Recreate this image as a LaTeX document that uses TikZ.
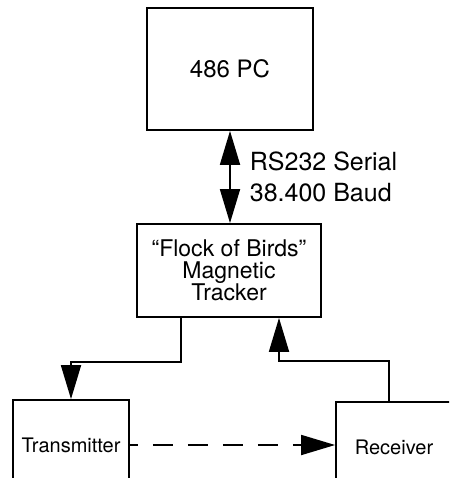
\documentclass[tikz,border=0pt]{standalone}
\usepackage{fontspec}
\setmainfont{TeX Gyre Heros}
\usetikzlibrary{arrows.meta}

\begin{document}
\begin{tikzpicture}[>={Triangle[length=34pt, width=20pt]}, line width=1.8pt, x=1pt, y=1pt,
    unit/.style={draw, inner sep=0pt, align=center}]
    \useasboundingbox (0,0) rectangle (449,-478);
    \clip (0,0) rectangle (449,-478);
    % Computer and tracker
    \node [unit, minimum width=166pt, minimum height=122pt, font=\fontsize{24}{28}\selectfont] (pc) at (230,-69) {486 PC};
    \node [unit, minimum width=184pt, minimum height=93pt, font=\fontsize{23}{22}\selectfont] (flock) at (229,-270.5) {“Flock of Birds”\\Magnetic\\Tracker};
    % Transmitter and receiver (cut off at the bottom)
    \node [unit, minimum width=116pt, minimum height=90pt, font=\fontsize{20}{24}\selectfont] (tx) at (71,-445) {Transmitter};
    \node [unit, minimum width=116pt, minimum height=90pt, font=\fontsize{20}{24}\selectfont] (rx) at (394,-447) {Receiver};
    % Serial link
    \draw [<->] (pc.south) -- (pc.south |- flock.north)
        node [midway, right=19pt, inner sep=0pt, align=left, font=\fontsize{25}{31}\selectfont] (link) {RS232 Serial\\38.400 Baud};
    % Tracker to transmitter, receiver to tracker
    \draw [->] ([xshift=-48pt]flock.south) -- ++(0,-44) -| (tx.north);
    \draw [->] ([xshift=-5pt]rx.north) -- ++(0,40) -| ([xshift=50pt]flock.south);
    \draw [->, dash pattern=on 20pt off 15pt, dash phase=12pt] (tx.east) -- (tx.east -| rx.west);
\end{tikzpicture}
\end{document}
